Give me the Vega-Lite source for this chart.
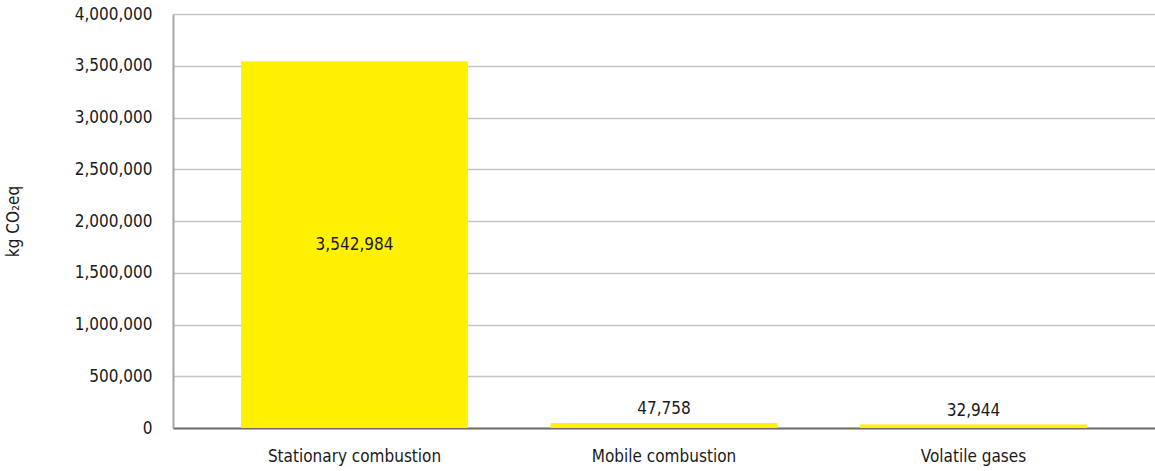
{
  "$schema": "https://vega.github.io/schema/vega-lite/v6.json",
  "width": 982,
  "height": 414,
  "autosize": "none",
  "padding": {"left": 173, "top": 14, "right": 0, "bottom": 43},
  "background": "white",
  "config": {
    "view": {"stroke": null},
    "font": "DejaVu Sans Condensed",
    "text": {"font": "DejaVu Sans Condensed", "fontSize": 17, "color": "#1a1a1a"}
  },
  "data": {
    "values": [
      {"source": "Stationary combustion", "emissions": 3542984},
      {"source": "Mobile combustion", "emissions": 47758},
      {"source": "Volatile gases", "emissions": 32944}
    ]
  },
  "encoding": {
    "x": {
      "field": "source",
      "type": "nominal",
      "sort": null,
      "scale": {"paddingInner": 0.267, "paddingOuter": 0.22, "align": 0.5},
      "axis": {
        "title": null,
        "labelAngle": 0,
        "labelFont": "DejaVu Sans Condensed",
        "labelFontSize": 17,
        "labelColor": "#1a1a1a",
        "labelPadding": 20,
        "ticks": false,
        "domainColor": "#6e6e6e",
        "domainWidth": 2
      }
    }
  },
  "layer": [
    {
      "mark": {"type": "bar", "color": "#FFF100"},
      "encoding": {
        "y": {
          "field": "emissions",
          "type": "quantitative",
          "scale": {"domain": [0, 4000000], "nice": false},
          "axis": {
            "title": "kg CO₂eq",
            "titleFont": "DejaVu Sans Condensed",
            "titleFontSize": 17,
            "titleFontWeight": "normal",
            "titleColor": "#1a1a1a",
            "titlePadding": 52,
            "values": [0, 500000, 1000000, 1500000, 2000000, 2500000, 3000000, 3500000, 4000000],
            "format": ",d",
            "labelFont": "DejaVu Sans Condensed",
            "labelFontSize": 17,
            "labelColor": "#1a1a1a",
            "labelPadding": 21,
            "ticks": false,
            "domainColor": "#a6a6a6",
            "domainWidth": 2,
            "gridColor": "#c4c4c4",
            "gridWidth": 1.6
          }
        }
      }
    },
    {
      "transform": [
        {"filter": "datum.emissions > 1000000"},
        {"calculate": "datum.emissions / 2", "as": "mid"}
      ],
      "mark": {"type": "text", "baseline": "middle"},
      "encoding": {
        "y": {"field": "mid", "type": "quantitative"},
        "text": {"field": "emissions", "type": "quantitative", "format": ",d"}
      }
    },
    {
      "transform": [{"filter": "datum.emissions <= 1000000"}],
      "mark": {"type": "text", "baseline": "bottom", "dy": -5},
      "encoding": {
        "y": {"field": "emissions", "type": "quantitative"},
        "text": {"field": "emissions", "type": "quantitative", "format": ",d"}
      }
    }
  ]
}
